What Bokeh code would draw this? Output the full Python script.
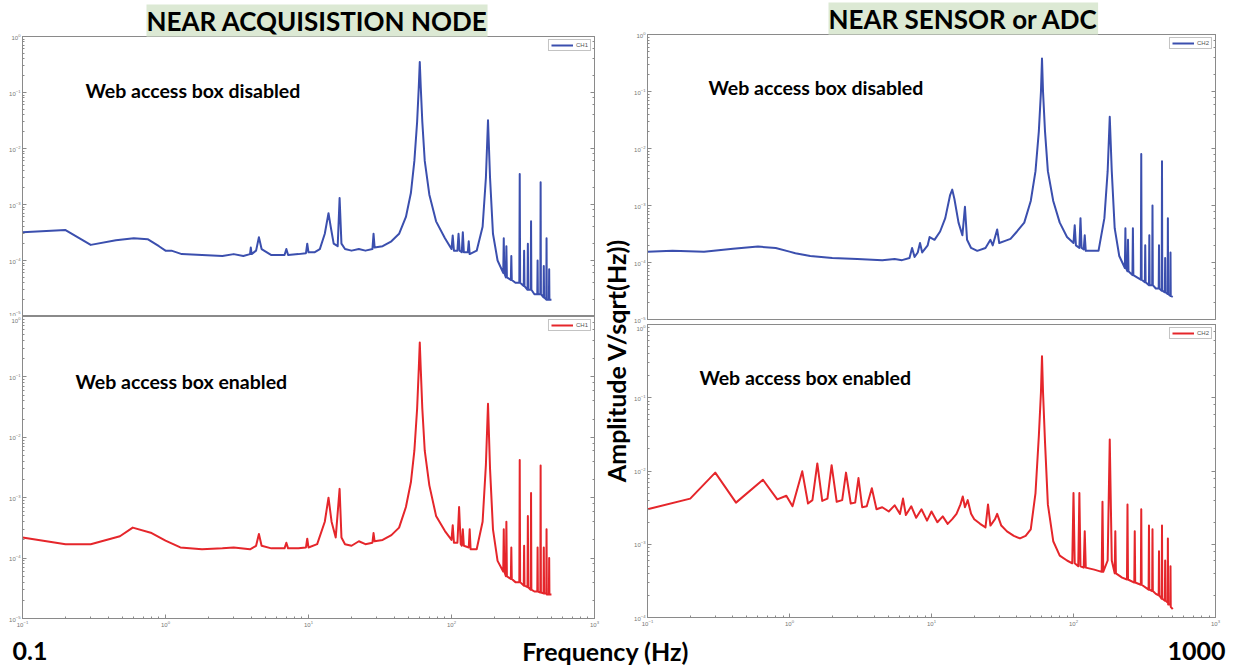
import math
from bokeh.plotting import figure
from bokeh.layouts import row, column
from bokeh.models import Range1d, Label, LogAxis, Legend, LegendItem, CustomJSTickFormatter, Title
from bokeh.embed import file_html
from bokeh.resources import INLINE

# ---------------- data ----------------
# Top-left: near acquisition node, web access box disabled (CH1)
tl_freq = [0.1, 0.2, 0.3, 0.45, 0.6, 0.75, 0.9, 1.0, 1.1, 1.3, 1.8, 2.5, 3.0, 3.5,
           3.9, 3.95, 4.0, 4.3, 4.5, 4.7, 5.5, 6.8, 7.0, 7.2, 8.5, 9.6, 9.8, 10, 11, 12,
           13, 13.8, 14.3, 15, 16, 16.5, 17, 18, 20, 22.5, 25, 28, 28.5, 29, 33, 38, 43,
           48, 52, 55, 57.5, 59, 60, 61, 62.5, 65, 70, 78, 90,
           100, 102, 104, 110, 112, 114, 118, 120, 122, 130, 132, 134, 150, 165, 174, 180,
           186, 195, 210, 230, 232, 234, 240, 242, 244, 260, 262, 264, 280, 298, 300, 302,
           320, 322, 324, 340, 342, 344, 358, 360, 362, 380, 398, 400, 402, 418, 420, 422,
           440, 442, 444, 460, 462, 464, 480, 482, 484, 500]
tl_amp = [3.2e-4, 3.5e-4, 1.9e-4, 2.3e-4, 2.5e-4, 2.4e-4, 1.8e-4, 1.5e-4, 1.5e-4, 1.3e-4,
          1.25e-4, 1.2e-4, 1.3e-4, 1.2e-4, 1.3e-4, 1.7e-4, 1.3e-4, 1.5e-4, 2.6e-4, 1.6e-4,
          1.25e-4, 1.25e-4, 1.6e-4, 1.25e-4, 1.3e-4, 1.35e-4, 2.0e-4, 1.4e-4, 1.4e-4, 1.6e-4,
          3e-4, 7e-4, 4e-4, 2e-4, 1.8e-4, 1.3e-3, 2e-4, 1.6e-4, 1.5e-4, 1.6e-4, 1.5e-4,
          1.6e-4, 3e-4, 1.7e-4, 1.8e-4, 2.2e-4, 3e-4,
          6e-4, 1.6e-3, 6e-3, 3e-2, 0.12, 0.35, 0.12, 3e-2, 6e-3, 1.5e-3, 5e-4, 2.5e-4,
          1.6e-4, 2.8e-4, 1.5e-4, 1.5e-4, 3e-4, 1.5e-4, 1.4e-4, 3.2e-4, 1.4e-4, 1.4e-4, 2.2e-4,
          1.3e-4, 1.5e-4, 4e-4, 3e-3, 3.2e-2,
          3e-3, 3e-4, 1e-4, 6e-5, 2.5e-4, 6e-5, 5e-5, 1.8e-4, 5e-5, 4.5e-5, 1.2e-4, 4.5e-5,
          4e-5, 4e-5, 3.5e-3, 4e-5,
          3.5e-5, 1.5e-4, 3.5e-5, 3e-5, 2e-4, 3e-5, 3e-5, 5e-4, 3e-5, 2.5e-5, 2.5e-5, 1e-4,
          2.5e-5, 2.5e-5, 2.5e-3, 2.5e-5,
          2.2e-5, 8e-5, 2.2e-5, 2e-5, 2.5e-4, 2e-5, 2e-5, 7e-5, 2e-5, 2e-5]

# Bottom-left: near acquisition node, web access box enabled (CH1)
bl_freq = [0.1, 0.2, 0.3, 0.48, 0.59, 0.8, 1.0, 1.27, 1.8, 2.5, 3.0, 3.9, 4.3, 4.5, 4.7,
           5.5, 6.8, 7.0, 7.2, 8.5, 9.6, 9.8, 10, 11.5, 13, 13.8, 14.5, 15.5, 16.5, 17, 18,
           20, 22.5, 25, 28, 28.5, 29, 33, 38, 43, 48, 52, 55, 57.5, 59, 60, 61, 62.5, 65,
           70, 78, 90, 100, 102, 104, 110, 113, 116, 118, 120, 122, 132, 134, 136, 150, 165,
           174, 180, 186, 195, 210, 230, 232, 234, 240, 242, 244, 260, 262, 264, 280, 298,
           300, 302, 320, 322, 324, 340, 342, 344, 358, 360, 362, 380, 398, 400, 402, 418,
           420, 422, 440, 442, 444, 460, 462, 464, 480, 482, 484, 500]
bl_amp = [2.2e-4, 1.7e-4, 1.7e-4, 2.3e-4, 3.2e-4, 2.6e-4, 1.95e-4, 1.5e-4, 1.4e-4, 1.45e-4,
          1.5e-4, 1.4e-4, 1.6e-4, 2.5e-4, 1.6e-4, 1.45e-4, 1.45e-4, 1.8e-4, 1.45e-4, 1.45e-4,
          1.5e-4, 2.1e-4, 1.5e-4, 1.7e-4, 4e-4, 1e-3, 4e-4, 2.2e-4, 1.4e-3, 2.2e-4, 1.7e-4,
          1.6e-4, 1.9e-4, 1.7e-4, 1.8e-4, 2.6e-4, 1.9e-4, 2e-4, 2.4e-4, 3.2e-4, 7e-4, 1.8e-3,
          6e-3, 3e-2, 0.13, 0.37, 0.13, 3e-2, 6e-3,
          1.6e-3, 5e-4, 2.8e-4, 2e-4, 3.5e-4, 1.8e-4, 1.8e-4, 7e-4, 1.7e-4, 1.6e-4, 3e-4,
          1.6e-4, 1.5e-4, 3e-4, 1.4e-4, 1.4e-4, 4e-4,
          3.5e-3, 3.6e-2, 3e-3, 3e-4, 9e-5, 6e-5, 3e-4, 6e-5, 5e-5, 4e-4, 5e-5, 4.5e-5,
          1.5e-4, 4.5e-5, 4e-5, 4e-5,
          4.2e-3, 4e-5, 3.5e-5, 1.6e-4, 3.5e-5, 3.3e-5, 5e-4, 3.3e-5, 3e-5, 1.2e-3, 3e-5,
          2.8e-5, 2.8e-5, 1.5e-4, 2.8e-5, 2.7e-5,
          3.4e-3, 2.7e-5, 2.6e-5, 1.5e-4, 2.6e-5, 2.6e-5, 3e-4, 2.5e-5, 2.5e-5, 1e-4, 2.5e-5,
          2.5e-5]

# Top-right: near sensor or ADC, web access box disabled (CH2)
tr_freq = [0.1, 0.15, 0.25, 0.4, 0.6, 0.8, 1.0, 1.1, 1.4, 2.0, 3.0, 4.5, 5.5, 6.2,
           7.0, 7.3, 7.6, 8.0, 8.3, 8.6, 9.4, 9.7, 10.5, 11.5, 12.5, 13.5, 14, 14.5, 15.5,
           16.5, 17.2, 17.8, 19, 21, 24, 26, 27, 29, 30, 33, 36, 40, 45, 50, 54, 57, 59, 60,
           61, 63, 66, 72, 80, 90, 100, 102, 104, 110, 112, 114, 118, 120, 122, 135, 150,
           165, 174, 180, 186, 195, 210, 230, 232, 234, 240, 242, 244, 260, 262, 264, 280,
           298, 300, 302, 318, 320, 322, 340, 342, 344, 358, 360, 362, 380, 398, 400, 402,
           418, 420, 422, 440, 442, 444, 460, 462, 464, 480, 482, 484, 500]
tr_amp = [1.55e-4, 1.6e-4, 1.55e-4, 1.75e-4, 1.9e-4, 1.8e-4, 1.55e-4, 1.45e-4, 1.3e-4,
          1.2e-4, 1.15e-4, 1.1e-4, 1.15e-4, 1.1e-4,
          1.2e-4, 1.8e-4, 1.25e-4, 1.5e-4, 2.2e-4, 1.5e-4, 2.0e-4, 2.8e-4, 2.5e-4, 3.5e-4,
          6e-4, 1.5e-3, 1.9e-3, 1.3e-3, 5e-4, 3e-4, 9.5e-4, 2.5e-4, 1.8e-4, 1.6e-4, 1.8e-4,
          2.5e-4, 2.0e-4, 3.8e-4, 2.2e-4, 2.4e-4, 2.6e-4, 3.5e-4, 5e-4, 1.2e-3, 4e-3, 2e-2,
          0.1, 0.38, 0.1, 2e-2, 4e-3, 1.2e-3, 5e-4, 2.8e-4, 2.2e-4, 4.5e-4, 2.0e-4, 1.8e-4,
          6e-4, 1.8e-4, 1.7e-4, 3e-4, 1.6e-4, 1.6e-4, 1.6e-4,
          6e-4, 4e-3, 3.6e-2, 4e-3, 4e-4, 1.3e-4, 8e-5, 4e-4, 8e-5, 7e-5, 2.5e-4, 7e-5,
          6e-5, 4e-4, 6e-5, 5.5e-5,
          5e-5, 8e-3, 5e-5, 4.5e-5, 2e-4, 4.5e-5, 4e-5, 3e-4, 4e-5, 4e-5, 1e-3, 4e-5, 3.5e-5,
          3.5e-5, 2e-4, 3.5e-5,
          3.2e-5, 6e-3, 3.2e-5, 3e-5, 1.2e-4, 3e-5, 2.8e-5, 6e-4, 2.8e-5, 2.6e-5, 1.5e-4,
          2.6e-5, 2.5e-5]

# Bottom-right: near sensor or ADC, web access box enabled (CH2)
br_freq = [0.1, 0.2, 0.3, 0.42, 0.65, 0.82, 0.95, 1.05, 1.23, 1.35, 1.45, 1.57, 1.7, 1.85,
           1.98, 2.15, 2.35, 2.5, 2.7, 2.9, 3.06, 3.25, 3.5, 3.8, 4.1, 4.5, 5.0, 5.5, 6.0,
           6.3, 6.6, 7.2, 7.8, 8.5, 9.3, 10, 11, 12, 13, 14, 15, 16, 16.6, 17.2, 18, 19, 20,
           22, 24, 25, 26, 28, 29, 31, 34, 38, 42, 46, 50, 54, 57, 59, 60, 61, 63, 66, 72,
           80, 90, 98, 100, 102, 108, 110, 112, 118, 120, 122, 140, 158, 160, 162, 174, 180,
           186, 195, 197, 199, 220, 238, 240, 242, 268, 270, 272, 298, 300, 302, 338, 340,
           342, 358, 360, 362, 380, 398, 400, 402, 418, 420, 422, 440, 442, 444, 460, 462,
           464, 480, 482, 484, 500]
br_amp = [3e-3, 4.2e-3, 9.5e-3, 3.7e-3, 7.6e-3, 4.1e-3, 4.6e-3, 3.3e-3, 9.9e-3, 3.6e-3,
          4e-3, 1.27e-2, 3.9e-3, 4.2e-3, 1.2e-2, 3.8e-3, 4e-3, 9.5e-3, 3.6e-3, 3.7e-3, 8e-3,
          3.2e-3, 3.3e-3, 5.8e-3, 3e-3, 3.2e-3, 2.8e-3, 3.4e-3, 2.6e-3, 4.2e-3, 2.5e-3,
          3.3e-3, 2.3e-3, 3e-3, 2.1e-3, 2.8e-3, 2e-3, 2.4e-3, 1.9e-3, 2.2e-3, 2.6e-3,
          3.5e-3, 4.5e-3, 3.2e-3, 4e-3, 2.6e-3, 2.2e-3, 1.9e-3, 1.7e-3, 3.5e-3, 1.8e-3,
          2.2e-3, 2.6e-3, 1.8e-3, 1.5e-3, 1.3e-3, 1.2e-3, 1.3e-3, 1.6e-3, 5e-3, 3e-2, 0.12,
          0.37, 0.12, 2.5e-2, 3.5e-3, 1.1e-3, 7e-4, 6e-4, 5.5e-4, 5e-3, 5.5e-4, 5e-4, 5e-3,
          5e-4, 4.8e-4, 1.5e-3, 4.8e-4, 4.5e-4, 4.2e-4, 3.8e-3, 4.2e-4, 6e-4, 2.7e-2, 6e-4,
          4e-4, 1.5e-3, 4e-4, 3.5e-4, 3.3e-4, 3.5e-3, 3.3e-4, 3e-4, 1.5e-3, 3e-4, 2.8e-4,
          3e-3, 2.8e-4, 2.4e-4, 1.8e-3, 2.4e-4, 2.3e-4, 1.6e-3, 2.3e-4, 2.1e-4, 2e-4, 8e-4,
          2e-4, 1.8e-4, 1.8e-3, 1.8e-4, 1.7e-4, 6e-4, 1.7e-4, 1.6e-4, 1.2e-3, 1.5e-4,
          1.5e-4, 5e-4, 1.4e-4, 1.3e-4]

x_limits = [0.1, 1000]
left_y_limits = [1e-5, 1.0]
tr_y_limits = [1e-5, 1.0]
br_y_limits = [1e-4, 1.0]

# ---------------- styling ----------------
BLUE = "#3b4fae"
RED = "#e5262b"
AX = "#8a8a8a"
FONT = "Lato"
GREEN = "#dce9d4"


def style_axis(ax, labels=True):
    ax.axis_line_color = AX
    ax.major_tick_line_color = AX
    ax.minor_tick_line_color = AX
    ax.major_tick_in = 4
    ax.major_tick_out = 0
    ax.minor_tick_in = 2
    ax.minor_tick_out = 0
    ax.major_label_text_color = "#777777"
    ax.major_label_text_font = "Liberation Sans"
    ax.major_label_text_font_size = "6px"
    if labels:
        ax.major_label_standoff = 2
    else:
        ax.major_label_standoff = 0
        ax.formatter = CustomJSTickFormatter(code="return ''")


def panel(freq, amp, color, ch, ylim, fw, fh, mb, show_x):
    left, right, top, bottom = mb
    p = figure(x_axis_type="log", y_axis_type="log",
               x_range=Range1d(*x_limits), y_range=Range1d(*ylim),
               frame_width=fw, frame_height=fh,
               min_border_left=left, min_border_right=right,
               min_border_top=top, min_border_bottom=bottom,
               x_axis_location="below" if show_x else None,
               title=None,
               toolbar_location=None, output_backend="svg")
    p.grid.visible = False
    p.outline_line_color = AX
    p.background_fill_color = "white"
    p.border_fill_color = "white"
    style_axis(p.yaxis[0])
    if show_x:
        style_axis(p.xaxis[0])
    ra = LogAxis()
    style_axis(ra, labels=False)
    p.add_layout(ra, "right")
    r = p.line(freq, amp, line_color=color, line_width=2, line_join="round")
    leg = Legend(items=[LegendItem(label=ch, renderers=[r])], location="top_right",
                 label_text_font_size="6px", label_text_color="#555555",
                 label_text_font="Liberation Sans",
                 glyph_width=22, glyph_height=6, label_height=6, label_width=12,
                 label_standoff=3, padding=2, spacing=0, margin=3,
                 border_line_color="#888888", border_line_width=1,
                 background_fill_color="white", background_fill_alpha=1)
    p.add_layout(leg)
    return p


def text(p, x, y, s, size, align="left", angle=0.0):
    lab = Label(x=x, y=y, text=s, text_font=FONT, text_font_style="bold",
                text_font_size=size, text_color="black", text_align=align,
                text_baseline="middle", angle=angle)
    p.add_layout(lab)


def column_title(p, s, offset):
    p.add_layout(Title(text=s, align="left", offset=offset,
                       text_font=FONT, text_font_style="bold", text_font_size="26px",
                       text_color="black", background_fill_color=GREEN,
                       standoff=0), "above")


tl = panel(tl_freq, tl_amp, BLUE, "CH1", left_y_limits, 572, 280, (22, 6, 36, 0), False)
bl = panel(bl_freq, bl_amp, RED, "CH1", left_y_limits, 572, 302, (22, 6, 0, 16), True)
tr = panel(tr_freq, tr_amp, BLUE, "CH2", tr_y_limits, 568, 285, (14, 10, 33, 5), False)
br = panel(br_freq, br_amp, RED, "CH2", br_y_limits, 568, 293, (14, 10, 0, 18), True)

text(tl, 0.276, 0.109, "Web access box disabled", "19.5px")
text(tr, 0.269, 0.117, "Web access box disabled", "19.5px")
text(bl, 0.235, 0.084, "Web access box enabled", "19.5px")
text(br, 0.232, 0.189, "Web access box enabled", "19.5px")

column_title(tl, "NEAR ACQUISISTION NODE", 124)
column_title(tr, "NEAR SENSOR or ADC", 181)

# vertical label strip between the two columns
LAB_W, LAB_H = 31, 634
lab = figure(width=LAB_W, height=LAB_H, x_range=Range1d(0, LAB_W), y_range=Range1d(0, LAB_H),
             min_border=0, x_axis_location=None, y_axis_location=None, title=None,
             toolbar_location=None, output_backend="svg")
lab.grid.visible = False
lab.outline_line_color = None
text(lab, 15.5, 274, "Amplitude V/sqrt(Hz))", "25px", align="center", angle=math.pi / 2)

# bottom strip with frequency labels
BOT_W, BOT_H = 1228, 31
bot = figure(width=BOT_W, height=BOT_H, x_range=Range1d(0, BOT_W), y_range=Range1d(0, BOT_H),
             min_border=0, x_axis_location=None, y_axis_location=None, title=None,
             toolbar_location=None, output_backend="svg")
bot.grid.visible = False
bot.outline_line_color = None
text(bot, 12, 16, "0.1", "25px", align="left")
text(bot, 605, 16, "Frequency (Hz)", "25px", align="center")
text(bot, 1225, 16, "1000", "25px", align="right")

layout = column(row(column(tl, bl), lab, column(tr, br)), bot)

open("out.html", "w").write(file_html(layout, INLINE))
